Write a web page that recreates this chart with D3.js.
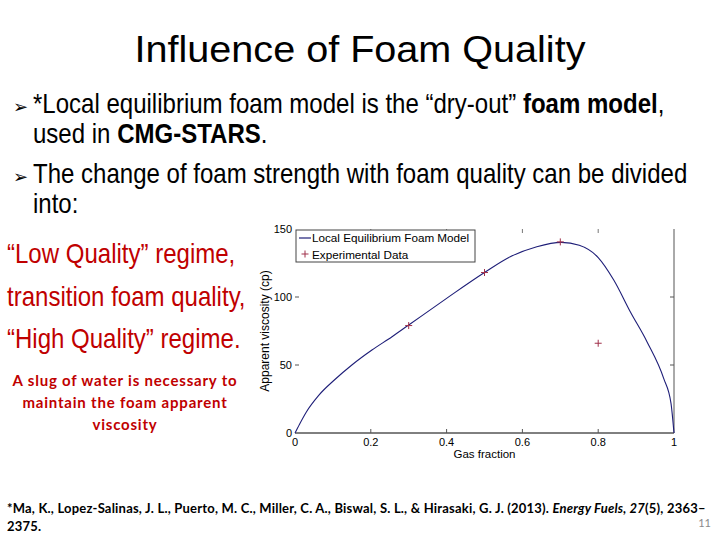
<!DOCTYPE html>
<html>
<head>
<meta charset="utf-8">
<script src="https://cdn.jsdelivr.net/npm/d3@7"></script>
<style>
  html, body { margin: 0; padding: 0; background: #fff; }
  svg { display: block; }
</style>
</head>
<body>
<svg id="slide" width="720" height="540"></svg>
<script>
// ---- data ----
const modelX = [0, 0.012, 0.03, 0.062, 0.106, 0.15, 0.203, 0.256, 0.3, 0.4, 0.5, 0.568, 0.638, 0.703, 0.75, 0.80, 0.841, 0.885, 0.929, 0.973, 0.992, 1.0];
const modelY = [0, 6.5, 15.5, 27.5, 39.5, 50, 61, 70.8, 79.4, 99, 118, 129.6, 137, 140.2, 138, 129, 112.5, 89, 67, 40, 22, 0];
const expX = [0.3, 0.5, 0.7, 0.8];
const expY = [79, 118, 140.5, 66];
const xTicks = [0, 0.2, 0.4, 0.6, 0.8, 1];
const yTicks = [0, 50, 100, 150];
const legendLabels = ["Local Equilibrium Foam Model", "Experimental Data"];

const svg = d3.select("#slide");
svg.append("rect").attr("width", 720).attr("height", 540).attr("fill", "#fff");

const SANS = "'Liberation Sans', Arial, sans-serif";
const RED = "#c00000";
const SX = 0.89; // horizontal compression of the body text in the reference

// ---- title ----
svg.append("text").attr("transform", "translate(360,62) scale(1.07,1)").attr("text-anchor", "middle")
  .attr("font-family", SANS).attr("font-size", 37).attr("fill", "#000")
  .text("Influence of Foam Quality");

// ---- body text helper ----
function body(xp, yp, color) {
  return svg.append("text").attr("transform", `translate(${xp},${yp}) scale(${SX},1)`)
    .attr("font-family", SANS).attr("font-size", 27).attr("fill", color || "#000");
}
function bullet(y) {
  svg.append("text").attr("x", 13).attr("y", y).attr("font-family", "'DejaVu Sans', sans-serif")
    .attr("font-size", 18).attr("fill", "#000").text("\u27A2");
}
bullet(113);
const t1 = body(33, 113);
t1.append("tspan").text("*Local equilibrium foam model is the \u201Cdry-out\u201D ");
t1.append("tspan").attr("font-weight", "bold").text("foam model");
t1.append("tspan").text(",");
const t1b = body(33, 143);
t1b.append("tspan").text("used in ");
t1b.append("tspan").attr("font-weight", "bold").text("CMG-STARS");
t1b.append("tspan").text(".");

bullet(183);
body(33, 183).text("The change of foam strength with foam quality can be divided");
body(33, 213).text("into:");

// ---- red regime text ----
const regimes = ["\u201CLow Quality\u201D regime,", "transition foam quality,", "\u201CHigh Quality\u201D regime."];
const regimeY = [263, 306, 348];
regimes.forEach((s, i) => body(7, regimeY[i], RED).text(s));

const FN = "Lato, 'Open Sans', sans-serif";
const note = ["A slug of water is necessary to", "maintain the foam apparent", "viscosity"];
note.forEach((s, i) => {
  svg.append("text").attr("x", 125).attr("y", 386 + i * 22).attr("text-anchor", "middle")
    .attr("font-family", FN).attr("font-weight", "bold").attr("letter-spacing", 0.8)
    .attr("font-size", 15).attr("fill", RED).text(s);
});

// ---- footnote ----
const f1 = svg.append("text").attr("x", 7).attr("y", 513).attr("font-family", FN).attr("font-weight", "bold")
  .attr("font-size", 13).attr("letter-spacing", 0.2).attr("fill", "#000");
f1.append("tspan").text("*Ma, K., Lopez-Salinas, J. L., Puerto, M. C., Miller, C. A., Biswal, S. L., & Hirasaki, G. J. (2013). ");
f1.append("tspan").attr("font-style", "italic").text("Energy Fuels, 27");
f1.append("tspan").text("(5), 2363\u2013");
svg.append("text").attr("x", 7).attr("y", 531).attr("font-family", FN).attr("font-weight", "bold")
  .attr("font-size", 13).attr("letter-spacing", 0.2).attr("fill", "#000").text("2375.");
svg.append("text").attr("x", 711).attr("y", 527).attr("text-anchor", "end").attr("font-family", FN)
  .attr("font-size", 11).attr("fill", "#8a8a8a").text("11");

// ---- chart ----
const x = d3.scaleLinear().domain([0, 1]).range([295, 674]);
const y = d3.scaleLinear().domain([0, 150]).range([433, 229]);
const g = svg.append("g");

g.append("line").attr("x1", x(0)).attr("x2", x(1)).attr("y1", y(0)).attr("y2", y(0)).attr("stroke", "#000").attr("stroke-width", 1);
g.append("line").attr("x1", x(1)).attr("x2", x(1)).attr("y1", y(0)).attr("y2", y(150)).attr("stroke", "#555").attr("stroke-width", 1);

const xInner = xTicks.filter(d => d > 0 && d < 1);
g.selectAll(".xt").data(xInner).join("line").attr("x1", d => x(d)).attr("x2", d => x(d))
  .attr("y1", y(0)).attr("y2", y(0) - 4).attr("stroke", "#555");
g.selectAll(".xtt").data(xInner).join("line").attr("x1", d => x(d)).attr("x2", d => x(d))
  .attr("y1", y(150)).attr("y2", y(150) + 4).attr("stroke", "#777");
g.selectAll(".xl").data(xTicks).join("text").attr("x", d => x(d)).attr("y", y(0) + 13)
  .attr("text-anchor", "middle").attr("font-family", SANS).attr("font-size", 11).attr("fill", "#000")
  .text(d => d3.format("")(d));

const yInner = yTicks.filter(d => d > 0 && d < 150);
g.selectAll(".yt").data(yInner).join("line").attr("x1", x(0)).attr("x2", x(0) + 4)
  .attr("y1", d => y(d)).attr("y2", d => y(d)).attr("stroke", "#555");
g.selectAll(".ytr").data(yInner).join("line").attr("x1", x(1)).attr("x2", x(1) - 4)
  .attr("y1", d => y(d)).attr("y2", d => y(d)).attr("stroke", "#555");
g.selectAll(".yl").data(yTicks).join("text").attr("x", x(0) - 3).attr("y", d => y(d) + 4)
  .attr("text-anchor", "end").attr("font-family", SANS).attr("font-size", 11).attr("fill", "#000")
  .text(d => d);

g.append("text").attr("x", (x(0) + x(1)) / 2).attr("y", 458).attr("text-anchor", "middle")
  .attr("font-family", SANS).attr("font-size", 11.5).attr("fill", "#000").text("Gas fraction");
g.append("text").attr("transform", `translate(269,${(y(0) + y(150)) / 2}) rotate(-90)`).attr("text-anchor", "middle")
  .attr("font-family", SANS).attr("font-size", 12).attr("fill", "#000").text("Apparent viscosity (cp)");

const model = modelX.map((d, i) => [d, modelY[i]]);
g.append("path").datum(model).attr("fill", "none").attr("stroke", "#1e1e78").attr("stroke-width", 1.1)
  .attr("d", d3.line().x(d => x(d[0])).y(d => y(d[1])).curve(d3.curveMonotoneX));

const PLUS = "#a0304a";
const exp = expX.map((d, i) => [d, expY[i]]);
g.selectAll(".pt").data(exp).join("path").attr("transform", d => `translate(${x(d[0])},${y(d[1])})`)
  .attr("d", "M-3.5,0H3.5M0,-3.5V3.5").attr("stroke", PLUS).attr("stroke-width", 1).attr("fill", "none");

const lg = g.append("g");
lg.append("rect").attr("x", 296).attr("y", 230).attr("width", 179).attr("height", 32)
  .attr("fill", "#fff").attr("stroke", "#444").attr("stroke-width", 1);
lg.append("line").attr("x1", 299).attr("x2", 311).attr("y1", 238).attr("y2", 238).attr("stroke", "#1e1e78").attr("stroke-width", 1.2);
lg.append("path").attr("transform", "translate(305,254)").attr("d", "M-3.5,0H3.5M0,-3.5V3.5").attr("stroke", PLUS).attr("fill", "none");
legendLabels.forEach((s, i) => {
  lg.append("text").attr("x", 312).attr("y", 242 + i * 17).attr("font-family", SANS)
    .attr("font-size", 11.7).attr("fill", "#000").text(s);
});
</script>
</body>
</html>
